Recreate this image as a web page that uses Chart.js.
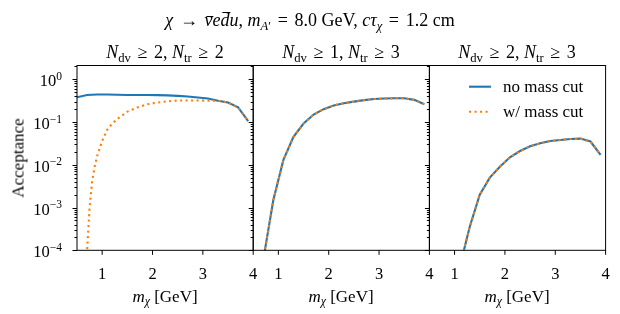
<!DOCTYPE html>
<html>
<head>
<meta charset="utf-8">
<script src="https://cdn.jsdelivr.net/npm/chart.js@4.4.0/dist/chart.umd.min.js"></script>
<style>
body { margin: 0; background: #fff; }
#wrap { position: relative; width: 620px; height: 314px; font-family: "Liberation Serif", serif; color: #000; overflow: hidden; }
#wrap canvas { position: absolute; left: 0; top: 0; }
.lbl { position: absolute; white-space: nowrap; font-size: 17px; line-height: 1; transform: translate(-50%, -50%); }
.lbl.big { font-size: 18px; }
.lbl sub { font-size: 70%; vertical-align: -0.3em; line-height: 0; }
.rel { margin: 0 0.12em; }
.bar { display: inline-block; position: relative; }
.bar::before { content: ''; position: absolute; left: 22%; right: -8%; border-top: 1px solid #000; }
.bar.lo::before { top: 0.26em; }
.bar.hi::before { top: 0.08em; }
</style>
</head>
<body>
<div id="wrap">
  <canvas id="c1" width="620" height="314"></canvas>
  <canvas id="c2" width="620" height="314"></canvas>
  <canvas id="c3" width="620" height="314"></canvas>
  <div class="lbl big" style="left:310px;top:20px"><i>χ</i> <span class="rel">→</span> <i><span class="bar lo">ν</span>e<span class="bar hi">d</span>u</i>, <i>m</i><sub><i>A</i>′</sub> <span class="rel">=</span> 8.0 GeV, <i>cτ</i><sub><i>χ</i></sub> <span class="rel">=</span> 1.2 cm</div>
  <div class="lbl big" style="left:165px;top:52px"><i>N</i><sub>dv</sub> <span class="rel">≥</span> 2, <i>N</i><sub>tr</sub> <span class="rel">≥</span> 2</div>
  <div class="lbl big" style="left:341px;top:52px"><i>N</i><sub>dv</sub> <span class="rel">≥</span> 1, <i>N</i><sub>tr</sub> <span class="rel">≥</span> 3</div>
  <div class="lbl big" style="left:517px;top:52px"><i>N</i><sub>dv</sub> <span class="rel">≥</span> 2, <i>N</i><sub>tr</sub> <span class="rel">≥</span> 3</div>
  <div class="lbl" style="left:165px;top:296px"><i>m</i><sub><i>χ</i></sub> [GeV]</div>
  <div class="lbl" style="left:341px;top:296px"><i>m</i><sub><i>χ</i></sub> [GeV]</div>
  <div class="lbl" style="left:517px;top:296px"><i>m</i><sub><i>χ</i></sub> [GeV]</div>
  <div class="lbl" style="left:18px;top:158px;transform:translate(-50%,-50%) rotate(-90deg)">Acceptance</div>
</div>
<script>
// masses [GeV]
const massGrid = [0.5, 0.7, 0.9, 1.1, 1.3, 1.5, 1.7, 1.9, 2.1, 2.3, 2.5, 2.7, 2.9, 3.1, 3.3, 3.5, 3.7, 3.9];
const massFine = [0.65, 0.7, 0.75, 0.8, 0.85, 0.9, 1.0, 1.1, 1.2, 1.3, 1.5, 1.7, 1.9, 2.1, 2.3, 2.5, 2.7, 2.9, 3.1, 3.3, 3.5, 3.7, 3.9];

// Ndv>=2, Ntr>=2
const noCut_dv2tr2 = [0.38, 0.43, 0.44, 0.44, 0.435, 0.43, 0.43, 0.43, 0.425, 0.42, 0.41, 0.395, 0.375, 0.355, 0.315, 0.285, 0.22, 0.105];
const cut_dv2tr2 = [1e-5, 1.0e-4, 1.0e-3, 4e-3, 9e-3, 0.016, 0.036, 0.066, 0.092, 0.118, 0.175, 0.22, 0.26, 0.285, 0.305, 0.318, 0.32, 0.32, 0.315, 0.315, 0.285, 0.22, 0.105];
// Ndv>=1, Ntr>=3
const noCut_dv1tr3 = [null, 6e-5, 1.5e-3, 0.013, 0.045, 0.092, 0.15, 0.20, 0.245, 0.275, 0.30, 0.325, 0.345, 0.355, 0.36, 0.36, 0.33, 0.26];
const cut_dv1tr3 = [null, 6e-5, 1.5e-3, 0.013, 0.045, 0.092, 0.15, 0.20, 0.245, 0.275, 0.30, 0.325, 0.345, 0.355, 0.36, 0.36, 0.33, 0.26];
// Ndv>=2, Ntr>=3
const noCut_dv2tr3 = [null, null, null, 4e-5, 3.5e-4, 2e-3, 5e-3, 9e-3, 0.015, 0.021, 0.027, 0.032, 0.036, 0.038, 0.040, 0.041, 0.035, 0.017];
const cut_dv2tr3 = [null, null, null, 4e-5, 3.5e-4, 2e-3, 5e-3, 9e-3, 0.015, 0.021, 0.027, 0.032, 0.036, 0.038, 0.040, 0.041, 0.035, 0.017];

const xTicks = [1, 2, 3, 4];
const yDecades = [-4, -3, -2, -1, 0];
const legendLabels = ['no mass cut', 'w/ mass cut'];

const X_MIN = 0.5, X_MAX = 4, Y_MIN = 1e-4, Y_MAX = 2.1;
const TOP = 65.5, BOTTOM = 250.3;
const panels = [[77, 253.2], [253.2, 429.4], [429.4, 605.6]];
const BLUE = '#1f77b4', ORANGE = '#ff7f0e';
const FONT = '"Liberation Serif", serif';

function pts(xs, ys) {
    return xs.map((x, i) => ({ x, y: ys[i] })).filter(p => p.y != null);
}

// matplotlib-like spines, outward ticks and labels
const mplAxes = {
    id: 'mplAxes',
    afterDatasetsDraw(chart, args, opts) {
        const { ctx, chartArea: a, scales: { x, y } } = chart;
        ctx.save();
        ctx.strokeStyle = '#000';
        ctx.fillStyle = '#000';
        ctx.lineWidth = 1;
        ctx.strokeRect(a.left, a.top, a.right - a.left, a.bottom - a.top);

        // y ticks on the left
        ctx.beginPath();
        yDecades.forEach(e => {
            for (let k = 1; k <= 9; k++) {
                const v = k * Math.pow(10, e);
                if (v > Y_MAX) break;
                const py = Math.round(y.getPixelForValue(v)) + 0.5;
                const len = k === 1 ? 4.5 : 2.5;
                ctx.moveTo(a.left - len, py);
                ctx.lineTo(a.left, py);
            }
        });
        // x ticks at the bottom
        xTicks.forEach(v => {
            const px = x.getPixelForValue(v);
            ctx.moveTo(px, a.bottom);
            ctx.lineTo(px, a.bottom + 4.5);
        });
        ctx.stroke();

        ctx.textAlign = 'center';
        ctx.textBaseline = 'alphabetic';
        ctx.font = '16.5px ' + FONT;
        xTicks.forEach(v => ctx.fillText(String(v), x.getPixelForValue(v), 278.5));

        if (opts.yLabels) {
            yDecades.forEach(e => {
                const py = y.getPixelForValue(Math.pow(10, e));
                const exp = e < 0 ? '\u2212' + (-e) : String(e);
                ctx.font = '11.5px ' + FONT;
                const ew = ctx.measureText(exp).width;
                ctx.textAlign = 'right';
                ctx.fillText(exp, 62, py + 0.5);
                ctx.font = '16.5px ' + FONT;
                ctx.fillText('10', 62 - ew, py + 7);
            });
        }

        if (opts.legend) {
            const ds = chart.data.datasets;
            const rows = [86.7, 111.7];
            ds.forEach((d, i) => {
                ctx.save();
                ctx.strokeStyle = d.borderColor;
                ctx.lineWidth = d.borderWidth;
                ctx.setLineDash(d.borderDash || []);
                ctx.beginPath();
                ctx.moveTo(469, rows[i]);
                ctx.lineTo(491, rows[i]);
                ctx.stroke();
                ctx.restore();
                ctx.font = '17px ' + FONT;
                ctx.textAlign = 'left';
                ctx.textBaseline = 'middle';
                ctx.fillText(d.label, 503, rows[i] + 1);
            });
        }
        ctx.restore();
    }
};

function makePanel(id, idx, noCut, cutX, cut, opts) {
    const [l, r] = panels[idx];
    return new Chart(document.getElementById(id), {
        type: 'line',
        data: {
            datasets: [
                // order: orange dotted drawn on top of blue
                { label: legendLabels[0], data: pts(massGrid, noCut), borderColor: BLUE, borderWidth: 2.1, order: 2 },
                { label: legendLabels[1], data: pts(cutX, cut), borderColor: ORANGE, borderWidth: 2.1, borderDash: [2.1, 3.4], order: 1 }
            ]
        },
        options: {
            responsive: false,
            animation: false,
            layout: { padding: { left: l, right: 620 - r, top: TOP, bottom: 314 - BOTTOM } },
            elements: { point: { radius: 0 }, line: { tension: 0, borderCapStyle: 'butt' } },
            plugins: { legend: { display: false }, tooltip: { enabled: false }, mplAxes: opts },
            scales: {
                x: { type: 'linear', min: X_MIN, max: X_MAX, display: false },
                y: { type: 'logarithmic', min: Y_MIN, max: Y_MAX, display: false }
            }
        },
        plugins: [mplAxes]
    });
}

makePanel('c1', 0, noCut_dv2tr2, massFine, cut_dv2tr2, { yLabels: true });
makePanel('c2', 1, noCut_dv1tr3, massGrid, cut_dv1tr3, {});
makePanel('c3', 2, noCut_dv2tr3, massGrid, cut_dv2tr3, { legend: true });
</script>
</body>
</html>
